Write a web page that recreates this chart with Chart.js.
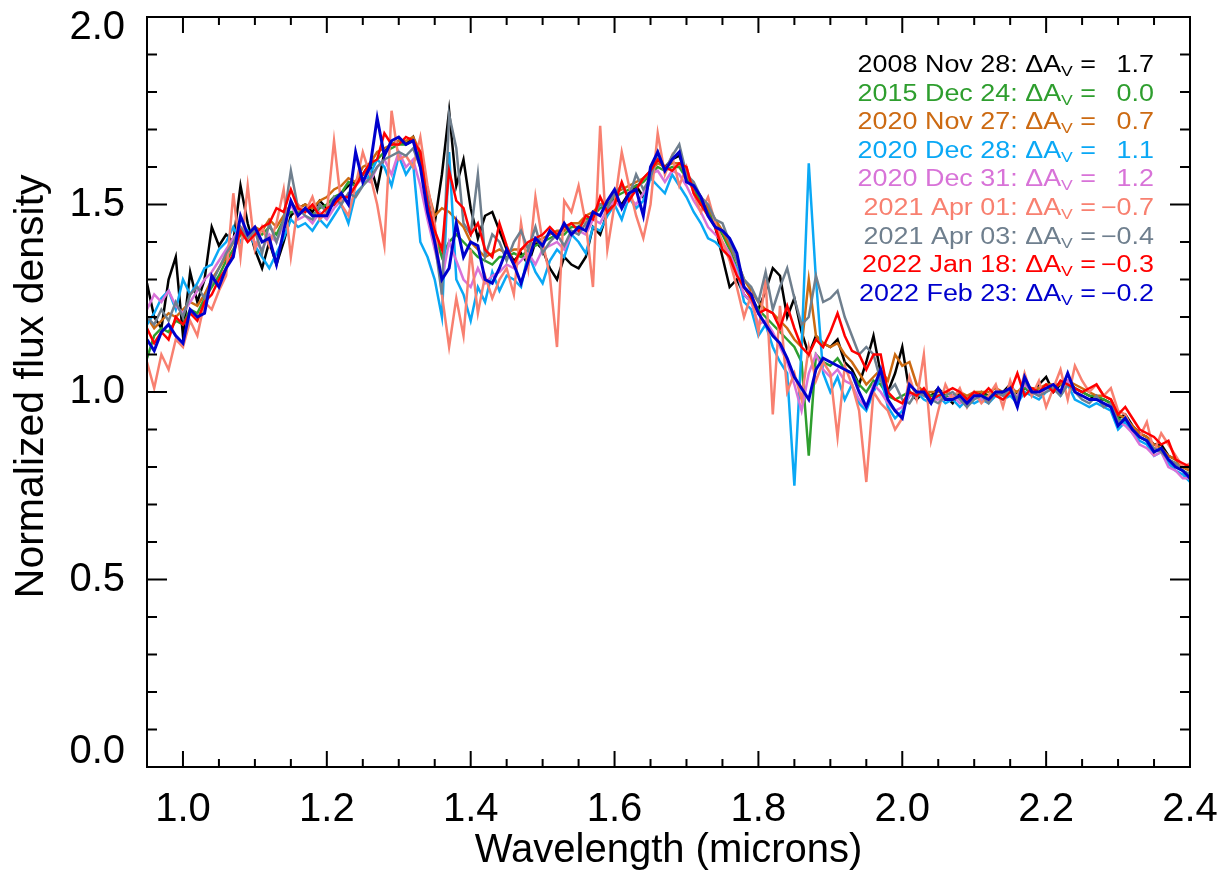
<!DOCTYPE html>
<html>
<head>
    <title>Normalized spectra</title>
    <meta charset="UTF-8">
    <script src="https://cdn.jsdelivr.net/npm/chart.js"></script>
    <style>
        html, body {
            margin: 0;
            padding: 0;
            background-color: #fff;
        }
        canvas {
            display: block;
        }
    </style>
</head>
<body>
    <canvas id="chart" width="1225" height="875"></canvas>
    <script>
    // wavelength grid of every spectrum (microns)
    const waveStart = 0.95;
    const waveStep = 0.01;

    const xTickValues = [1.0, 1.2, 1.4, 1.6, 1.8, 2.0, 2.2, 2.4];
    const yTickValues = [0.0, 0.5, 1.0, 1.5, 2.0];

    const epochs = ['2008 Nov 28', '2015 Dec 24', '2020 Nov 27', '2020 Dec 28', '2020 Dec 31',
                    '2021 Apr 01', '2021 Apr 03', '2022 Jan 18', '2022 Feb 23'];
    const deltaAV = ['1.7', '0.0', '0.7', '1.1', '1.2', '\u22120.7', '\u22120.4', '\u22120.3', '\u22120.2'];
    const colors = ['#000000', '#2e9e2e', '#cc6a12', '#0aa8f5', '#d873d8',
                    '#f88070', '#6f7f8e', '#ff0000', '#0000cd'];

    // normalized flux density, one value per grid point (0.95 ... 2.40)
    const flux2008Nov28 = [
        1.29,1.20,1.17,1.30,1.36,1.15,1.32,1.24,1.30,1.44,
        1.39,1.42,1.40,1.55,1.45,1.38,1.33,1.40,1.34,1.40,
        1.47,1.49,1.50,1.48,1.51,1.49,1.50,1.53,1.55,1.56,
        1.58,1.61,1.54,1.64,1.66,1.67,1.66,1.68,1.62,1.54,
        1.45,1.58,1.75,1.55,1.62,1.49,1.41,1.47,1.48,1.43,
        1.38,1.35,1.37,1.34,1.40,1.38,1.33,1.30,1.36,1.34,
        1.33,1.36,1.44,1.42,1.48,1.52,1.50,1.53,1.55,1.52,
        1.58,1.62,1.60,1.62,1.63,1.58,1.55,1.50,1.49,1.44,
        1.36,1.28,1.30,1.26,1.24,1.22,1.27,1.33,1.31,1.20,
        1.25,1.16,1.10,1.15,1.13,1.12,1.14,1.08,1.06,1.02,
        1.08,1.15,1.05,1.00,1.05,1.12,1.00,0.98,1.00,0.99,
        1.01,0.99,0.97,1.00,0.98,0.99,1.00,0.99,0.99,1.00,
        1.02,0.99,1.01,1.00,1.02,1.04,1.00,1.02,1.03,1.01,
        1.00,0.99,0.98,0.98,0.97,0.93,0.94,0.91,0.89,0.88,
        0.86,0.86,0.83,0.82,0.80,0.79
    ];
    const flux2015Dec24 = [
        1.09,1.15,1.17,1.16,1.19,1.18,1.22,1.21,1.25,1.28,
        1.31,1.35,1.38,1.42,1.41,1.43,1.42,1.44,1.42,1.46,
        1.48,1.48,1.49,1.47,1.49,1.50,1.52,1.53,1.56,1.55,
        1.58,1.60,1.62,1.64,1.65,1.66,1.66,1.67,1.62,1.50,
        1.42,1.36,1.40,1.42,1.40,1.38,1.36,1.35,1.34,1.36,
        1.36,1.37,1.36,1.38,1.39,1.40,1.41,1.42,1.42,1.44,
        1.44,1.46,1.47,1.49,1.50,1.52,1.53,1.54,1.55,1.56,
        1.58,1.60,1.59,1.60,1.60,1.57,1.54,1.51,1.48,1.45,
        1.42,1.38,1.33,1.28,1.25,1.22,1.20,1.18,1.16,1.14,
        1.12,1.08,0.83,1.10,1.08,1.07,1.09,1.06,1.05,1.02,
        1.00,1.03,1.02,0.99,0.98,0.99,1.00,0.99,1.00,0.99,
        0.99,0.99,0.98,0.99,0.98,0.99,0.99,0.99,1.00,1.00,
        1.00,1.00,1.01,1.00,1.01,1.01,1.01,1.02,1.02,1.01,
        1.00,0.99,0.99,0.98,0.97,0.93,0.92,0.90,0.88,0.87,
        0.85,0.84,0.82,0.81,0.79,0.78
    ];
    const flux2020Nov27 = [
        1.20,1.17,1.19,1.21,1.20,1.22,1.24,1.23,1.26,1.30,
        1.33,1.36,1.40,1.43,1.42,1.44,1.43,1.46,1.44,1.47,
        1.50,1.49,1.50,1.49,1.51,1.52,1.54,1.55,1.57,1.56,
        1.60,1.61,1.64,1.65,1.66,1.67,1.67,1.68,1.64,1.54,
        1.47,1.49,1.48,1.46,1.44,1.40,1.38,1.36,1.37,1.38,
        1.37,1.38,1.38,1.39,1.40,1.41,1.42,1.43,1.43,1.45,
        1.45,1.47,1.48,1.50,1.51,1.53,1.54,1.55,1.56,1.57,
        1.59,1.61,1.60,1.61,1.61,1.58,1.55,1.52,1.49,1.46,
        1.43,1.39,1.35,1.30,1.27,1.24,1.22,1.21,1.19,1.17,
        1.14,1.12,1.30,1.15,1.13,1.12,1.13,1.10,1.08,1.05,
        1.02,1.04,1.06,1.03,1.10,1.07,1.08,1.02,1.00,1.00,
        1.00,1.00,0.99,1.00,0.99,1.00,1.00,1.00,1.01,1.00,
        1.01,1.00,1.02,1.01,1.01,1.02,1.02,1.02,1.03,1.02,
        1.01,1.00,0.99,0.99,0.98,0.94,0.93,0.91,0.89,0.88,
        0.86,0.85,0.83,0.82,0.80,0.79
    ];
    const flux2020Dec28 = [
        1.18,1.21,1.25,1.27,1.22,1.30,1.26,1.29,1.33,1.34,
        1.38,1.40,1.44,1.40,1.43,1.39,1.36,1.33,1.37,1.41,
        1.46,1.44,1.45,1.43,1.46,1.44,1.47,1.50,1.45,1.53,
        1.55,1.58,1.62,1.60,1.55,1.63,1.58,1.61,1.40,1.36,
        1.30,1.20,1.64,1.30,1.26,1.19,1.28,1.24,1.32,1.27,
        1.31,1.30,1.28,1.37,1.32,1.29,1.35,1.38,1.36,1.42,
        1.40,1.37,1.44,1.43,1.47,1.50,1.46,1.52,1.49,1.51,
        1.57,1.55,1.53,1.58,1.55,1.52,1.48,1.45,1.41,1.40,
        1.38,1.36,1.33,1.24,1.22,1.15,1.18,1.12,1.08,1.05,
        0.75,1.12,1.61,1.30,1.05,1.00,1.04,0.98,1.02,0.97,
        0.95,1.00,1.04,0.96,0.93,0.95,0.99,1.00,0.98,0.97,
        0.99,0.97,0.98,0.96,0.98,0.97,0.98,0.97,0.99,0.98,
        0.99,0.97,1.00,0.99,0.98,1.00,1.01,0.99,1.02,0.98,
        0.97,0.96,0.97,0.96,0.95,0.90,0.92,0.89,0.87,0.86,
        0.83,0.84,0.81,0.79,0.78,0.76
    ];
    const flux2020Dec31 = [
        1.22,1.26,1.24,1.27,1.23,1.21,1.24,1.27,1.30,1.32,
        1.35,1.38,1.41,1.44,1.42,1.40,1.38,1.42,1.40,1.45,
        1.50,1.46,1.47,1.45,1.48,1.46,1.49,1.51,1.52,1.55,
        1.57,1.56,1.60,1.62,1.58,1.64,1.60,1.62,1.55,1.46,
        1.38,1.30,1.40,1.35,1.30,1.28,1.33,1.29,1.31,1.32,
        1.34,1.33,1.35,1.37,1.34,1.38,1.39,1.40,1.38,1.42,
        1.43,1.42,1.46,1.45,1.49,1.51,1.49,1.52,1.50,1.53,
        1.58,1.59,1.56,1.59,1.58,1.55,1.51,1.48,1.44,1.42,
        1.40,1.37,1.32,1.26,1.24,1.18,1.19,1.16,1.12,1.08,
        1.02,0.95,1.05,1.10,1.06,1.04,1.06,1.03,1.02,0.98,
        0.96,1.02,1.00,0.97,0.95,0.96,0.99,1.00,0.99,0.98,
        0.98,0.98,0.99,0.97,0.98,0.99,0.98,0.98,1.00,0.99,
        1.00,0.99,1.02,1.00,0.99,1.01,1.02,1.00,1.03,1.00,
        0.99,0.98,0.98,0.97,0.96,0.92,0.91,0.89,0.86,0.85,
        0.83,0.84,0.80,0.79,0.77,0.77
    ];
    const flux2021Apr01 = [
        1.08,1.01,1.10,1.06,1.14,1.12,1.19,1.15,1.24,1.22,
        1.27,1.31,1.53,1.36,1.55,1.38,1.44,1.39,1.45,1.54,
        1.36,1.50,1.48,1.52,1.46,1.48,1.67,1.50,1.47,1.55,
        1.64,1.58,1.50,1.39,1.75,1.62,1.63,1.60,1.68,1.55,
        1.45,1.26,1.12,1.25,1.15,1.38,1.21,1.31,1.25,1.30,
        1.33,1.26,1.45,1.33,1.52,1.40,1.31,1.12,1.51,1.48,
        1.55,1.45,1.28,1.71,1.38,1.50,1.64,1.55,1.47,1.41,
        1.50,1.69,1.58,1.63,1.55,1.60,1.53,1.48,1.52,1.45,
        1.40,1.35,1.28,1.20,1.26,1.16,1.30,0.94,1.23,1.00,
        1.05,0.98,1.12,1.03,1.08,1.05,0.88,1.07,1.02,0.95,
        0.76,1.00,0.97,0.95,0.90,0.93,1.04,0.98,1.10,0.87,
        0.95,1.02,0.98,1.01,0.96,1.00,0.97,0.99,1.02,0.96,
        1.03,0.97,1.05,0.99,1.03,0.96,1.01,1.06,0.98,1.07,
        1.03,1.00,1.02,0.99,1.01,0.95,0.94,0.90,0.88,0.92,
        0.84,0.89,0.86,0.83,0.80,0.81
    ];
    const flux2021Apr03 = [
        1.20,1.18,1.22,1.19,1.24,1.20,1.26,1.28,1.25,1.29,
        1.33,1.37,1.40,1.44,1.41,1.43,1.37,1.45,1.40,1.46,
        1.59,1.49,1.47,1.46,1.50,1.48,1.52,1.50,1.53,1.52,
        1.55,1.57,1.60,1.62,1.63,1.64,1.63,1.65,1.60,1.52,
        1.40,1.26,1.74,1.65,1.45,1.42,1.58,1.36,1.42,1.40,
        1.35,1.40,1.43,1.38,1.44,1.37,1.40,1.42,1.39,1.43,
        1.42,1.45,1.47,1.50,1.49,1.53,1.55,1.52,1.58,1.54,
        1.57,1.64,1.59,1.63,1.66,1.58,1.56,1.52,1.50,1.46,
        1.45,1.40,1.35,1.30,1.28,1.24,1.32,1.22,1.28,1.33,
        1.25,1.18,1.20,1.31,1.24,1.25,1.27,1.20,1.15,1.10,
        1.12,1.10,1.03,1.00,1.02,0.98,0.97,1.00,0.99,0.98,
        0.97,0.99,1.00,0.98,0.96,0.98,0.99,0.97,1.00,0.99,
        1.01,0.98,1.03,1.00,0.99,1.00,1.01,0.99,1.02,1.00,
        0.98,0.97,0.99,0.96,0.97,0.92,0.93,0.90,0.88,0.87,
        0.85,0.84,0.82,0.81,0.79,0.78
    ];
    const flux2022Jan18 = [
        1.17,1.13,1.16,1.14,1.20,1.18,1.21,1.19,1.24,1.26,
        1.30,1.33,1.37,1.43,1.40,1.42,1.44,1.45,1.49,1.48,
        1.54,1.49,1.48,1.50,1.47,1.49,1.50,1.52,1.52,1.55,
        1.58,1.61,1.62,1.69,1.66,1.66,1.68,1.67,1.64,1.50,
        1.43,1.38,1.59,1.51,1.49,1.42,1.45,1.38,1.36,1.45,
        1.39,1.34,1.38,1.40,1.41,1.42,1.44,1.42,1.44,1.45,
        1.43,1.47,1.46,1.52,1.48,1.50,1.56,1.51,1.54,1.57,
        1.59,1.62,1.60,1.59,1.61,1.60,1.53,1.50,1.47,1.44,
        1.38,1.36,1.31,1.28,1.25,1.21,1.22,1.21,1.17,1.23,
        1.17,1.12,1.10,1.14,1.12,1.16,1.21,1.15,1.11,1.10,
        1.06,1.10,1.10,1.00,0.98,0.97,1.00,0.99,1.01,0.98,
        0.99,1.00,1.01,1.00,0.98,1.00,0.99,1.01,0.99,0.98,
        1.00,1.05,0.99,1.01,1.00,1.02,1.00,1.03,1.02,1.01,
        1.00,1.01,1.02,0.99,0.98,0.94,0.96,0.93,0.90,0.89,
        0.88,0.86,0.87,0.82,0.81,0.80
    ];
    const flux2022Feb23 = [
        1.14,1.11,1.16,1.18,1.15,1.13,1.22,1.20,1.21,1.31,
        1.28,1.33,1.36,1.47,1.42,1.44,1.40,1.41,1.34,1.43,
        1.51,1.47,1.49,1.47,1.47,1.47,1.51,1.53,1.50,1.64,
        1.56,1.60,1.73,1.63,1.67,1.68,1.66,1.67,1.60,1.48,
        1.40,1.30,1.33,1.45,1.36,1.40,1.39,1.30,1.29,1.33,
        1.38,1.34,1.29,1.35,1.41,1.39,1.43,1.41,1.45,1.42,
        1.44,1.43,1.48,1.47,1.51,1.54,1.49,1.53,1.54,1.47,
        1.60,1.64,1.59,1.62,1.64,1.56,1.55,1.52,1.47,1.44,
        1.43,1.41,1.37,1.28,1.26,1.21,1.18,1.15,1.13,1.09,
        1.04,1.01,0.98,1.06,1.09,1.08,1.07,1.06,1.05,1.00,
        0.96,1.01,1.06,0.98,0.95,0.93,1.02,1.00,1.00,0.97,
        1.01,0.98,0.98,0.99,0.97,0.99,0.99,0.98,1.00,1.00,
        1.01,0.96,1.04,1.00,1.00,1.01,1.02,1.00,1.05,1.00,
        0.99,0.98,0.98,0.97,0.96,0.91,0.93,0.90,0.88,0.87,
        0.84,0.85,0.82,0.80,0.79,0.77
    ];

    const spectra = [flux2008Nov28, flux2015Dec24, flux2020Nov27, flux2020Dec28, flux2020Dec31,
                     flux2021Apr01, flux2021Apr03, flux2022Jan18, flux2022Feb23];

    const fontFamily = "'Liberation Sans', Arial, Helvetica, sans-serif";
    Chart.defaults.font.family = fontFamily;
    Chart.defaults.color = '#000';

    // box round the plot with inward major and minor ticks on all four sides
    const frameTicks = {
        id: 'frameTicks',
        afterDatasetsDraw(chart) {
            const {ctx, chartArea: a, scales: {x, y}} = chart;
            const isMajor = (v, list) => list.some(t => Math.abs(t - v) < 1e-6);
            ctx.save();
            ctx.strokeStyle = '#000';
            ctx.lineWidth = 2;
            ctx.beginPath();
            for (let k = Math.ceil(x.min / 0.05 - 1e-6); k * 0.05 <= x.max + 1e-6; k++) {
                const v = k * 0.05;
                const px = x.getPixelForValue(v);
                const len = isMajor(v, xTickValues) ? 16 : 8;
                ctx.moveTo(px, a.bottom); ctx.lineTo(px, a.bottom - len);
                ctx.moveTo(px, a.top); ctx.lineTo(px, a.top + len);
            }
            for (let k = Math.ceil(y.min / 0.1 - 1e-6); k * 0.1 <= y.max + 1e-6; k++) {
                const v = k * 0.1;
                const py = y.getPixelForValue(v);
                const len = isMajor(v, yTickValues) ? 20 : 10;
                ctx.moveTo(a.left, py); ctx.lineTo(a.left + len, py);
                ctx.moveTo(a.right, py); ctx.lineTo(a.right - len, py);
            }
            ctx.stroke();
            ctx.strokeRect(a.left, a.top, a.right - a.left, a.bottom - a.top);
            ctx.restore();
        }
    };

    // epoch labels in the upper right, "dAv" with a subscript V
    const epochLabels = {
        id: 'epochLabels',
        afterDraw(chart) {
            const ctx = chart.ctx;
            const xRight = 1154, eqRight = 1096, y0 = 72, dy = 28.6, sx = 1.17;
            const mainFont = '23px ' + fontFamily;
            const subFont = '15px ' + fontFamily;
            ctx.save();
            ctx.textBaseline = 'alphabetic';
            epochs.forEach((ep, i) => {
                const yb = y0 + i * dy;
                ctx.fillStyle = colors[i];
                ctx.save();
                ctx.translate(xRight, yb);
                ctx.scale(sx, 1);
                ctx.font = mainFont;
                ctx.textAlign = 'right';
                ctx.fillText(deltaAV[i], 0, 0);
                ctx.restore();

                ctx.save();
                ctx.translate(eqRight, yb);
                ctx.scale(sx, 1);
                ctx.textAlign = 'right';
                ctx.font = mainFont;
                ctx.fillText('=', 0, 0);
                let pos = -ctx.measureText('= ').width;
                ctx.font = subFont;
                ctx.fillText('V', pos, 4);
                pos -= ctx.measureText('V').width;
                ctx.font = mainFont;
                ctx.fillText(ep + ': \u0394A', pos, 0);
                ctx.restore();
            });
            ctx.restore();
        }
    };

    new Chart(document.getElementById('chart'), {
        type: 'line',
        data: {
            datasets: spectra.map((vals, i) => ({
                label: epochs[i],
                data: vals.map((v, j) => ({x: waveStart + j * waveStep, y: v})),
                borderColor: colors[i],
                borderWidth: i === spectra.length - 1 ? 3 : 2.5,
                pointRadius: 0,
                tension: 0,
                fill: false,
                order: spectra.length - i
            }))
        },
        options: {
            responsive: false,
            animation: false,
            layout: {
                padding: {left: 0, top: 17, right: 35, bottom: 0}
            },
            plugins: {
                legend: {display: false},
                tooltip: {enabled: false}
            },
            scales: {
                x: {
                    type: 'linear',
                    min: 0.95,
                    max: 2.4,
                    afterBuildTicks: s => { s.ticks = xTickValues.map(v => ({value: v})); },
                    afterFit: s => { s.height = 108; s.paddingLeft = 0; s.paddingRight = 0; },
                    grid: {display: false},
                    border: {display: false},
                    ticks: {
                        font: {size: 40},
                        color: '#000',
                        padding: 11,
                        maxRotation: 0,
                        autoSkip: false,
                        callback: v => v.toFixed(1)
                    },
                    title: {
                        display: true,
                        text: 'Wavelength (microns)',
                        font: {size: 40},
                        color: '#000',
                        padding: {top: 0, bottom: 0}
                    }
                },
                y: {
                    min: 0,
                    max: 2,
                    afterBuildTicks: s => { s.ticks = yTickValues.map(v => ({value: v})); },
                    afterFit: s => { s.width = 147; s.paddingTop = 0; s.paddingBottom = 0; },
                    grid: {display: false},
                    border: {display: false},
                    ticks: {
                        color: '#000',
                        padding: 14,
                        font: c => ({size: 40, lineHeight: c.tick && c.tick.value === 2 ? 0.55 : 0.75}),
                        callback: v => v === 0 ? ['0.0', ''] : v === 2 ? ['', '2.0'] : v.toFixed(1)
                    },
                    title: {
                        display: true,
                        text: '\u00a0Normalized flux density',
                        font: {size: 41},
                        color: '#000',
                        padding: {top: 7, bottom: 0}
                    }
                }
            }
        },
        plugins: [frameTicks, epochLabels]
    });
    </script>
</body>
</html>
